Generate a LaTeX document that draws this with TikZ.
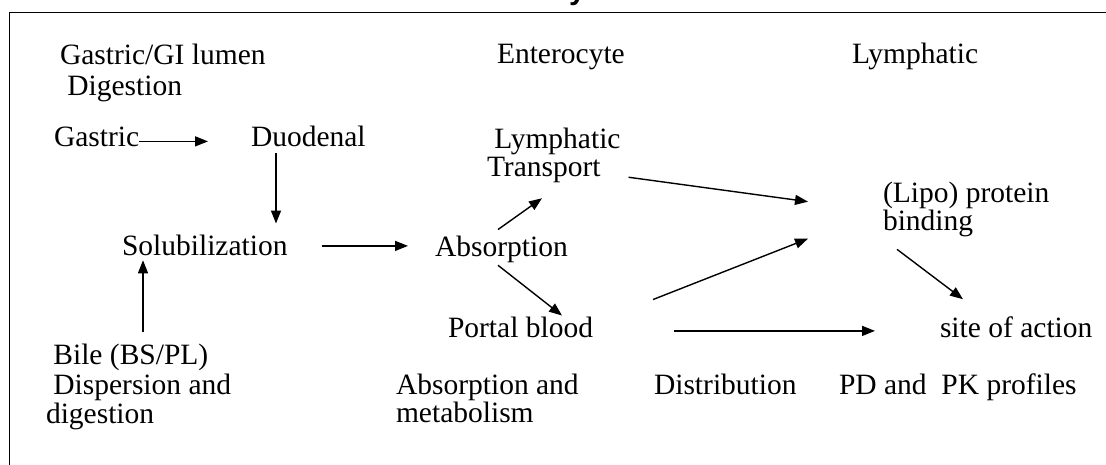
\documentclass[tikz,border=0pt]{standalone}
\usepackage{fontspec}
\setmainfont{Liberation Serif}
\newfontfamily\bodyfont{Liberation Serif}
\newfontfamily\headfont{Liberation Sans}
\usetikzlibrary{arrows.meta}

\begin{document}
\begin{tikzpicture}[x=1pt,y=-1pt,
        txt/.style={inner sep=0pt,outer sep=0pt,align=left,
            font=\bodyfont\fontsize{29.5}{28.5}\selectfont},
        arr/.style={-{Triangle[length=13pt,width=10pt]},line width=1.4pt}]
\useasboundingbox (0,0) rectangle (1106,465);

% frame and cut title
\node[anchor=base west,inner sep=0pt,font=\headfont\bfseries\fontsize{30}{30}\selectfont] (title) at (514,0) {body};
\draw[line width=1.6pt] (9.5,465) -- (9.5,12.5) -- (1106,12.5);

% column heads
\node[txt,anchor=north west] (lumen) at (60,44) {Gastric/GI lumen\\[3pt]\ Digestion};
\node[txt,anchor=base west] (entero) at (497,64) {Enterocyte};
\node[txt,anchor=base west] (lymph) at (852,64) {Lymphatic};

% steps
\node[txt,anchor=base west] (gastric) at (54,147) {Gastric};
\node[txt,anchor=base west] (duo) at (251,147) {Duodenal};
\node[txt,anchor=base west] (sol) at (122,256) {Solubilization};
\node[txt,anchor=base west] (absorb) at (435,257) {Absorption};
\node[txt,anchor=north west] (transport) at (487,128) {\ Lymphatic\\Transport};
\node[txt,anchor=north west] (lipo) at (883,182) {(Lipo) protein\\binding};
\node[txt,anchor=base west] (portal) at (448,337) {Portal blood};
\node[txt,anchor=base west] (site) at (940,337) {site of action};
\node[txt,anchor=north west] (bile) at (46,344) {\ Bile (BS/PL)\\[2pt]\ Dispersion and\\digestion};

% bottom labels
\node[txt,anchor=north west] (absmet) at (396,374) {Absorption and\\metabolism};
\node[txt,anchor=base west] (distrib) at (654,394) {Distribution};
\node[txt,anchor=base west] (pdpk) at (839,394) {PD and\ \ PK profiles};

% arrows
\draw[arr,shorten >=43pt] ([yshift=-4pt]gastric.east) -- ([yshift=-4pt]gastric.east -| duo.west);
\draw[arr] ([xshift=25pt,yshift=-6pt]duo.south west) -- ([xshift=154pt,yshift=12pt]sol.north west);
\draw[arr,shorten <=34pt,shorten >=27pt] (sol.east) -- (sol.east -| absorb.west);
\draw[arr] ([xshift=97pt,yshift=12pt]bile.north west) -- ([xshift=21pt,yshift=-4pt]sol.south west);
\draw[arr] ([xshift=63pt,yshift=7pt]absorb.north west) -- ([xshift=55pt,yshift=-15pt]transport.south west);
\draw[arr] ([xshift=63pt,yshift=-2pt]absorb.south west) -- ([xshift=114pt,yshift=1pt]portal.north west);
\draw[arr] ([xshift=8pt,yshift=6pt]transport.south east) -- ([xshift=-75pt,yshift=8pt]lipo.west);
\draw[arr] ([xshift=60pt,yshift=17pt]portal.north east) -- ([xshift=-75pt,yshift=-29pt]lipo.west);
\draw[arr,shorten <=81pt,shorten >=65pt] ([yshift=-4pt]portal.east) -- ([yshift=-4pt]portal.east -| site.west);
\draw[arr] ([xshift=14pt,yshift=-12pt]lipo.south west) -- ([xshift=23pt,yshift=17pt]site.north west);

\end{tikzpicture}
\end{document}
